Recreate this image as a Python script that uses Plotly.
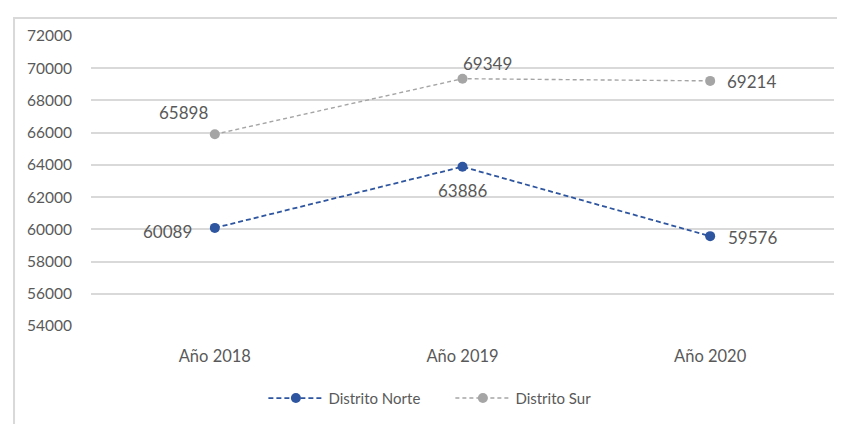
import plotly.graph_objects as go

categories = ["Año 2018", "Año 2019", "Año 2020"]
norte = [60089, 63886, 59576]
sur = [65898, 69349, 69214]
y_ticks = [54000, 56000, 58000, 60000, 62000, 64000, 66000, 68000, 70000, 72000]
y_tick_labels = [str(v) for v in y_ticks]

# label offsets (pixels) per point
norte_off = [(-47, 4), (0, 24), (42, 1)]
sur_off = [(-31, -22), (25, -15), (41, 1)]

FONT = "Lato, Open Sans, sans-serif"
TXT = "#595959"
BLUE = "#2E55A0"
GRAY = "#A5A5A5"

fig = go.Figure()
fig.add_trace(go.Scatter(x=categories, y=norte, name="Distrito Norte", mode="lines+markers",
                         line=dict(color=BLUE, width=1.8, dash="5px,3px"),
                         marker=dict(color=BLUE, size=10)))
fig.add_trace(go.Scatter(x=categories, y=sur, name="Distrito Sur", mode="lines+markers",
                         line=dict(color=GRAY, width=1.4, dash="4px,3px"),
                         marker=dict(color=GRAY, size=10)))

ann = []
for vals, offs in ((norte, norte_off), (sur, sur_off)):
    for c, v, (dx, dy) in zip(categories, vals, offs):
        ann.append(dict(x=c, y=v, text=str(v), showarrow=False, xshift=dx, yshift=-dy,
                        font=dict(family=FONT, size=17, color=TXT)))

fig.update_layout(
    width=837, height=416,
    margin=dict(l=83, r=11, t=28, b=97),
    paper_bgcolor="white", plot_bgcolor="white",
    font=dict(family=FONT, size=15, color=TXT),
    annotations=ann,
    showlegend=True,
    legend=dict(orientation="h", x=0.232, xanchor="left", y=-0.245, yanchor="middle",
                font=dict(family=FONT, size=15, color=TXT), itemwidth=55,
                entrywidth=117, entrywidthmode="pixels"),
    xaxis=dict(range=[-0.5, 2.5], showgrid=False, showline=False, zeroline=False, ticks="",
               ticklabelstandoff=18, tickfont=dict(family=FONT, size=16.5, color=TXT)),
    yaxis=dict(range=[54000, 72000], tickvals=y_ticks, ticktext=y_tick_labels,
               showgrid=True, gridcolor="#D9D9D9",
               gridwidth=1.5, zeroline=False, showline=False, ticks="",
               ticklabelstandoff=18, tickfont=dict(family=FONT, size=15.5, color=TXT)),
    shapes=[dict(type="rect", xref="paper", yref="paper", x0=-0.1036, x1=1.03, y0=-0.4, y1=1.062,
                 line=dict(color="#D9D9D9", width=2), fillcolor="rgba(0,0,0,0)", layer="below")],
)

fig.write_html("out.html")
